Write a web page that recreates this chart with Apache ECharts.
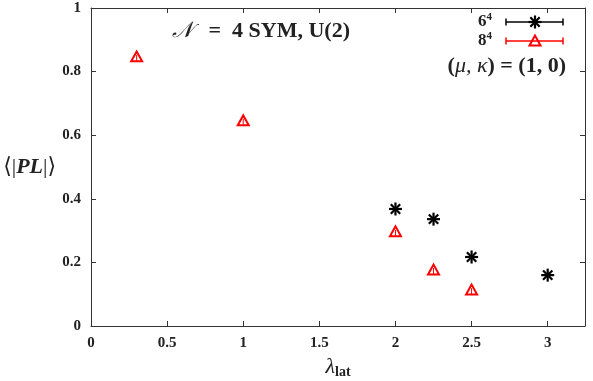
<!DOCTYPE html>
<html><head><meta charset="utf-8">
<script src="https://cdn.jsdelivr.net/npm/echarts@6/dist/echarts.min.js"></script>
<style>html,body{margin:0;padding:0;background:#fff}#c{width:593px;height:381px}</style>
</head><body><div id="c"></div>
<script>
// data
const lambda6 = [2.0, 2.25, 2.5, 3.0];
const pl6 = [0.368, 0.336, 0.217, 0.160];
const lambda8 = [0.3, 1.0, 2.0, 2.25, 2.5];
const pl8 = [0.846, 0.645, 0.296, 0.176, 0.113];
const xTicks = [0, 0.5, 1, 1.5, 2, 2.5, 3];
const yTicks = [0, 0.2, 0.4, 0.6, 0.8, 1];

const FONT = '"Liberation Serif", "DejaVu Serif", serif';
const chart = echarts.init(document.getElementById('c'), null, {renderer: 'canvas'});

function starItem(params, api) {
  const p = api.coord([api.value(0), api.value(1)]);
  const r = 6.5, d = r * 0.72;
  const st = {stroke: '#000', lineWidth: 2.2};
  return {type: 'group', children: [
    {type: 'line', shape: {x1: p[0]-r, y1: p[1], x2: p[0]+r, y2: p[1]}, style: st},
    {type: 'line', shape: {x1: p[0], y1: p[1]-r, x2: p[0], y2: p[1]+r}, style: st},
    {type: 'line', shape: {x1: p[0]-d, y1: p[1]-d, x2: p[0]+d, y2: p[1]+d}, style: st},
    {type: 'line', shape: {x1: p[0]-d, y1: p[1]+d, x2: p[0]+d, y2: p[1]-d}, style: st}
  ]};
}
function triItem(params, api) {
  const p = api.coord([api.value(0), api.value(1)]);
  const w = 5.5, h = 5.5;
  return {type: 'group', children: [
    {type: 'polygon', shape: {points: [[p[0]-w, p[1]+h*0.8], [p[0]+w, p[1]+h*0.8], [p[0], p[1]-h]]},
     style: {fill: 'none', stroke: '#f00', lineWidth: 2}},
    {type: 'line', shape: {x1: p[0], y1: p[1]-2, x2: p[0], y2: p[1]+4}, style: {stroke: '#f00', lineWidth: 1}}
  ]};
}

const labelStyle = {fontFamily: FONT, fontWeight: 'bold', fontSize: 15, color: '#222'};
const grid = {left: 91, right: 8, top: 8, bottom: 55, outerBoundsMode: 'none', containLabel: false};

function legendGraphic(y, color, kind) {
  const x1 = 506, x2 = 563, cx = 535;
  const items = [
    {type: 'line', shape: {x1, y1: y, x2, y2: y}, style: {stroke: color, lineWidth: 1.5}},
    {type: 'line', shape: {x1, y1: y-3.5, x2: x1, y2: y+3.5}, style: {stroke: color, lineWidth: 1.5}},
    {type: 'line', shape: {x1: x2, y1: y-3.5, x2, y2: y+3.5}, style: {stroke: color, lineWidth: 1.5}}
  ];
  if (kind === 'star') {
    const r = 6.5, d = r*0.72, st = {stroke: color, lineWidth: 2.2};
    items.push({type:'line', shape:{x1:cx-r,y1:y,x2:cx+r,y2:y}, style:st});
    items.push({type:'line', shape:{x1:cx,y1:y-r,x2:cx,y2:y+r}, style:st});
    items.push({type:'line', shape:{x1:cx-d,y1:y-d,x2:cx+d,y2:y+d}, style:st});
    items.push({type:'line', shape:{x1:cx-d,y1:y+d,x2:cx+d,y2:y-d}, style:st});
  } else {
    items.push({type:'polygon', shape:{points:[[cx-5.5,y+4.4],[cx+5.5,y+4.4],[cx,y-5.5]]}, style:{fill:'none', stroke: color, lineWidth: 2}});
  }
  return items;
}

const option = {
  animation: false,
  backgroundColor: '#fff',
  grid: grid,
  xAxis: [{
    type: 'value', min: 0, max: 3.245, interval: 0.5,
    position: 'bottom',
    axisLine: {show: true, onZero: false, lineStyle: {color: '#333', width: 1}},
    axisTick: {show: true, inside: true, length: 5, lineStyle: {color: '#333'}},
    axisLabel: Object.assign({margin: 10, showMaxLabel: false, formatter: v => xTicks.includes(v) ? String(v) : ''}, labelStyle),
    splitLine: {show: false},
    name: '{l|λ}{s|lat}', nameLocation: 'middle', nameGap: 26,
    nameTextStyle: {rich: {
      l: {fontFamily: FONT, fontStyle: 'italic', fontSize: 22, color: '#222'},
      s: {fontFamily: FONT, fontWeight: 'bold', fontSize: 14, color: '#222', padding: [10, 0, 0, 0]}
    }}
  }, {
    type: 'value', min: 0, max: 3.245, interval: 0.5, position: 'top',
    axisLine: {show: true, onZero: false, lineStyle: {color: '#333'}},
    axisTick: {show: true, inside: true, length: 5, lineStyle: {color: '#333'}},
    axisLabel: {show: false}, splitLine: {show: false}
  }],
  yAxis: [{
    type: 'value', min: 0, max: 1, interval: 0.2, position: 'left',
    axisLine: {show: true, onZero: false, lineStyle: {color: '#333'}},
    axisTick: {show: true, inside: true, length: 5, lineStyle: {color: '#333'}},
    axisLabel: Object.assign({margin: 10, formatter: v => String(Math.round(v*10)/10)}, labelStyle),
    splitLine: {show: false},
    name: '{a|⟨|}{b|PL}{a||⟩}', nameLocation: 'middle', nameRotate: 0, nameGap: 35,
    nameTextStyle: {rich: {
      a: {fontFamily: FONT, fontSize: 22, color: '#222'},
      b: {fontFamily: FONT, fontStyle: 'italic', fontWeight: 'bold', fontSize: 22, color: '#222'}
    }}
  }, {
    type: 'value', min: 0, max: 1, interval: 0.2, position: 'right',
    axisLine: {show: true, onZero: false, lineStyle: {color: '#333'}},
    axisTick: {show: true, inside: true, length: 5, lineStyle: {color: '#333'}},
    axisLabel: {show: false}, splitLine: {show: false}
  }],
  series: [{
    name: '6^4', type: 'custom', renderItem: starItem,
    data: lambda6.map((x, i) => [x, pl6[i]]), clip: false
  }, {
    name: '8^4', type: 'custom', renderItem: triItem,
    data: lambda8.map((x, i) => [x, pl8[i]]), clip: false
  }],
  graphic: [
    {type: 'text', left: 172, top: 20, style: {
      text: '{n|𝒩}{t| =  4 SYM, U(2)}',
      rich: {n: {fontFamily: FONT, fontStyle: 'italic', fontSize: 22, fill: '#222', padding: [0, 10, 0, 0]},
             t: {fontFamily: FONT, fontWeight: 'bold', fontSize: 22, fill: '#222'}}
    }},
    {type: 'text', right: 101, top: 12, style: {text: '6{s|4}', font: 'bold 17px ' + FONT, fill: '#222',
      rich: {s: {fontFamily: FONT, fontWeight: 'bold', fontSize: 11, fill: '#222', verticalAlign: 'top', padding: [0,0,8,0]}}}},
    {type: 'text', right: 101, top: 31, style: {text: '8{s|4}', font: 'bold 17px ' + FONT, fill: '#222',
      rich: {s: {fontFamily: FONT, fontWeight: 'bold', fontSize: 11, fill: '#222', verticalAlign: 'top', padding: [0,0,8,0]}}}},
    {type: 'text', right: 27, top: 55, style: {
      text: '{m|(}{g|μ, κ}{m|) = (1, 0)}',
      rich: {m: {fontFamily: FONT, fontWeight: 'bold', fontSize: 22, fill: '#222'},
             g: {fontFamily: FONT, fontStyle: 'italic', fontSize: 22, fill: '#222'}}
    }},
    ...legendGraphic(22, '#000', 'star'),
    ...legendGraphic(41, '#f00', 'tri')
  ]
};
chart.setOption(option);
</script></body></html>
